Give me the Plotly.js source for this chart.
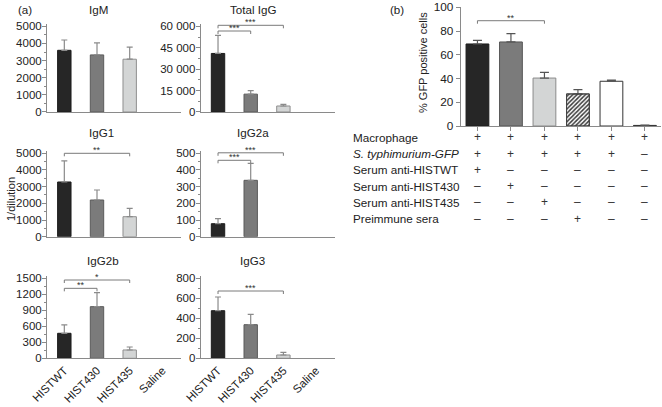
<!DOCTYPE html>
<html><head><meta charset="utf-8">
<script src="https://cdn.plot.ly/plotly-3.0.1.min.js"></script>
<style>html,body{margin:0;padding:0;background:#fff}#chart{width:662px;height:407px}</style>
</head><body><div id="chart"></div>
<script>
// ---------- DATA ----------
const categories = ['HISTWT', 'HIST430', 'HIST435', 'Saline'];

const igmValues = [3600, 3330, 3080, null];
const igmErrors = [600, 700, 700, null];
const totalIgGValues = [41000, 12500, 4200, null];
const totalIgGErrors = [12700, 2500, 1100, null];
const igg1Values = [3280, 2200, 1200, null];
const igg1Errors = [1260, 600, 500, null];
const igg2aValues = [78, 338, null, null];
const igg2aErrors = [30, 102, null, null];
const igg2bValues = [469, 968, 156, null];
const igg2bErrors = [156, 262, 56, null];
const igg3Values = [476, 336, 33, null];
const igg3Errors = [137, 104, 27, null];

// significance brackets: [from category index, to category index, level, label]
const sigIgM = [];
const sigTotalIgG = [[0, 1, 56700, '***'], [0, 2, 60700, '***']];
const sigIgG1 = [[0, 2, 5000, '**']];
const sigIgG2a = [[0, 1, 458, '***'], [0, 2, 503, '***']];
const sigIgG2b = [[0, 1, 1312, '**'], [0, 2, 1468, '*']];
const sigIgG3 = [[0, 2, 673, '***']];

const panelTitles = ['IgM', 'Total IgG', 'IgG1', 'IgG2a', 'IgG2b', 'IgG3'];
const panelTickStep = [1000, 15000, 1000, 100, 300, 200];
const panelMax = [5000, 60000, 5000, 500, 1500, 800];

const gfpColumns = [0, 1, 2, 3, 4, 5];
const gfpValues = [69.1, 70.8, 40.4, 27.0, 37.7, 0.5];
const gfpErrors = [3.0, 7.0, 4.8, 3.6, 1.0, 0.3];
const gfpHatched = [false, false, false, true, false, false];
const sigGfp = [[0, 2, 88.7, '**']];

const tableRows = ['Macrophage', '<i>S. typhimurium-GFP</i>', 'Serum anti-HISTWT',
  'Serum anti-HIST430', 'Serum anti-HIST435', 'Preimmune sera'];
const tableSigns = [
  ['+', '+', '+', '+', '+', '+'],
  ['+', '+', '+', '+', '+', '\u2013'],
  ['+', '\u2013', '\u2013', '\u2013', '\u2013', '\u2013'],
  ['\u2013', '+', '\u2013', '\u2013', '\u2013', '\u2013'],
  ['\u2013', '\u2013', '+', '\u2013', '\u2013', '\u2013'],
  ['\u2013', '\u2013', '\u2013', '+', '\u2013', '\u2013']
];

// ---------- STYLE / LAYOUT ----------
const W = 662, H = 407;
const FONT = 'Liberation Sans, Arial, Helvetica, sans-serif';
const AX = '#8a8a8a';
const TXT = '#222';
const fillA = ['#262626', '#7b7b7b', '#d3d5d5', '#ffffff'];
const lineA = ['#1c1c1c', '#5a5a5a', '#8f8f8f', '#8f8f8f'];
const fillB = ['#262626', '#7b7b7b', '#d3d5d5', '#ffffff', '#ffffff', '#333333'];
const lineB = ['#1c1c1c', '#555555', '#8a8a8a', '#444444', '#333333', '#333333'];

const colX = [[47, 181], [200.7, 334.7]];
const rowY = [[112, 26.3], [236.7, 153.3], [358.3, 278.3]];
const pad = 1.03;
const titlePos = [[98.7, 10], [252.5, 10], [101, 132.7], [252.7, 132.7], [103, 260], [252.7, 260]];

const panelValues = [igmValues, totalIgGValues, igg1Values, igg2aValues, igg2bValues, igg3Values];
const panelErrors = [igmErrors, totalIgGErrors, igg1Errors, igg2aErrors, igg2bErrors, igg3Errors];
const panelSig = [sigIgM, sigTotalIgG, sigIgG1, sigIgG2a, sigIgG2b, sigIgG3];

const traces = [];
const layout = {
  width: W, height: H,
  margin: {l: 0, r: 0, t: 0, b: 0},
  paper_bgcolor: '#fff', plot_bgcolor: 'rgba(0,0,0,0)',
  showlegend: false,
  separators: '. ',
  font: {family: FONT, size: 11.5, color: TXT},
  bargap: 0, barmode: 'overlay',
  shapes: [], annotations: []
};

function addBrackets(n, sig) {
  sig.forEach(s => {
    const [i, j, y, lab] = s;
    const common = {xref: 'x' + n, yref: 'y' + n, line: {color: '#7a7a7a', width: 1}};
    layout.shapes.push(Object.assign({type: 'line', x0: i, x1: j, y0: y, y1: y}, common));
    [i, j].forEach(xx => layout.shapes.push(Object.assign({
      type: 'line', x0: xx, x1: xx, ysizemode: 'pixel', yanchor: y, y0: 0, y1: -3
    }, common)));
    layout.annotations.push({xref: 'x' + n, yref: 'y' + n, x: (i + j) / 2, y: y, text: lab,
      showarrow: false, yanchor: 'bottom', yshift: -4, font: {size: 9, color: '#333', family: FONT}});
  });
}

for (let p = 0; p < 6; p++) {
  const n = p + 1;
  const col = p % 2, row = Math.floor(p / 2);
  const bottom = rowY[row][0], topTick = rowY[row][1];
  const topPx = bottom - (bottom - topTick) * pad;
  traces.push({
    type: 'bar', x: categories, y: panelValues[p], xaxis: 'x' + n, yaxis: 'y' + n,
    width: 0.41,
    marker: {color: fillA, line: {color: lineA, width: 1}},
    error_y: {type: 'data', symmetric: false, array: panelErrors[p], arrayminus: [0, 0, 0, 0],
      color: '#8a8a8a', thickness: 1.2, width: 3},
    hoverinfo: 'skip'
  });
  layout['xaxis' + n] = {
    domain: [colX[col][0] / W, colX[col][1] / W], anchor: 'y' + n,
    type: 'category', categoryarray: categories, range: [-0.53, 3.57],
    showline: true, linecolor: AX, linewidth: 1, ticks: '', showgrid: false, zeroline: false,
    showticklabels: row === 2, tickangle: -45, tickfont: {size: 11.5, color: TXT}
  };
  layout['yaxis' + n] = {
    domain: [1 - bottom / H, 1 - topPx / H], anchor: 'x' + n,
    range: [0, panelMax[p] * pad], tick0: 0, dtick: panelTickStep[p],
    tickformat: panelMax[p] >= 10000 ? ',d' : 'd', exponentformat: 'none',
    showline: true, linecolor: AX, linewidth: 1, ticks: 'outside', ticklen: 4, tickcolor: AX,
    ticklabelstandoff: -2,
    minor: {ticks: 'outside', ticklen: 2, dtick: panelTickStep[p] / 2, tickcolor: AX},
    showgrid: false, zeroline: false, tickfont: {size: 11.5, color: TXT}
  };
  layout.annotations.push({xref: 'paper', yref: 'paper', x: titlePos[p][0] / W, y: 1 - titlePos[p][1] / H,
    text: panelTitles[p], showarrow: false, xanchor: 'center', yanchor: 'middle',
    font: {size: 11.6, color: TXT, family: FONT}});
  addBrackets(n, panelSig[p]);
}

// panel b
traces.push({
  type: 'bar', x: gfpColumns, y: gfpValues, xaxis: 'x7', yaxis: 'y7', width: 0.68,
  marker: {color: fillB, line: {color: lineB, width: 1}},
  error_y: {type: 'data', symmetric: false, array: gfpErrors, arrayminus: [0, 0, 0, 0, 0, 0],
    color: '#555', thickness: 1.2, width: 4.5},
  hoverinfo: 'skip'
});
// hatched overlay for the pre-immune-serum bar
traces.push({
  type: 'bar', x: gfpColumns, y: gfpValues.map((v, i) => gfpHatched[i] ? v : null),
  xaxis: 'x7', yaxis: 'y7', width: 0.68,
  marker: {color: 'rgba(255,255,255,0)', line: {color: '#444', width: 1},
    pattern: {shape: '/', fgcolor: '#3a3a3a', fgopacity: 1, size: 3, solidity: 0.5, fillmode: 'overlay'}},
  hoverinfo: 'skip'
});
layout.xaxis7 = {
  domain: [460.7 / W, 661 / W], anchor: 'y7', range: [-0.5, 5.48],
  tickvals: gfpColumns, showticklabels: false, ticks: 'outside', ticklen: 4, tickcolor: AX,
  showline: true, linecolor: AX, linewidth: 1, showgrid: false, zeroline: false
};
layout.yaxis7 = {
  domain: [1 - 126 / H, 1 - 7.3 / H], anchor: 'x7', range: [0, 100], dtick: 20,
  showline: true, linecolor: AX, linewidth: 1, ticks: 'outside', ticklen: 4, tickcolor: AX,
  showgrid: false, zeroline: false, tickfont: {size: 11.8, color: TXT}
};
addBrackets(7, sigGfp);

// table under panel b
tableRows.forEach((r, i) => {
  const yp = 1 - (137.3 + i * 16.3) / H;
  layout.annotations.push({xref: 'paper', yref: 'paper', x: 351 / W, y: yp, text: r,
    showarrow: false, xanchor: 'left', yanchor: 'middle', font: {size: 11.7, color: TXT, family: FONT}});
  tableSigns[i].forEach((s, c) => {
    layout.annotations.push({xref: 'x7', yref: 'paper', x: gfpColumns[c], y: yp, text: s,
      showarrow: false, xanchor: 'center', yanchor: 'middle', font: {size: 12, color: '#333', family: FONT}});
  });
});

// labels
const lab = (t, x, y, angle, sz) => layout.annotations.push({xref: 'paper', yref: 'paper', x: x / W, y: 1 - y / H,
  text: t, showarrow: false, xanchor: 'center', yanchor: 'middle', textangle: angle || 0,
  font: {size: sz || 11.6, color: TXT, family: FONT}});
lab('(a)', 25, 10);
lab('(b)', 397, 10);
lab('1/dilution', 11, 199, -90, 11);
lab('% GFP positive cells', 423, 62, -90, 11);

Plotly.newPlot('chart', traces, layout, {staticPlot: true, displayModeBar: false});
</script>
</body></html>
